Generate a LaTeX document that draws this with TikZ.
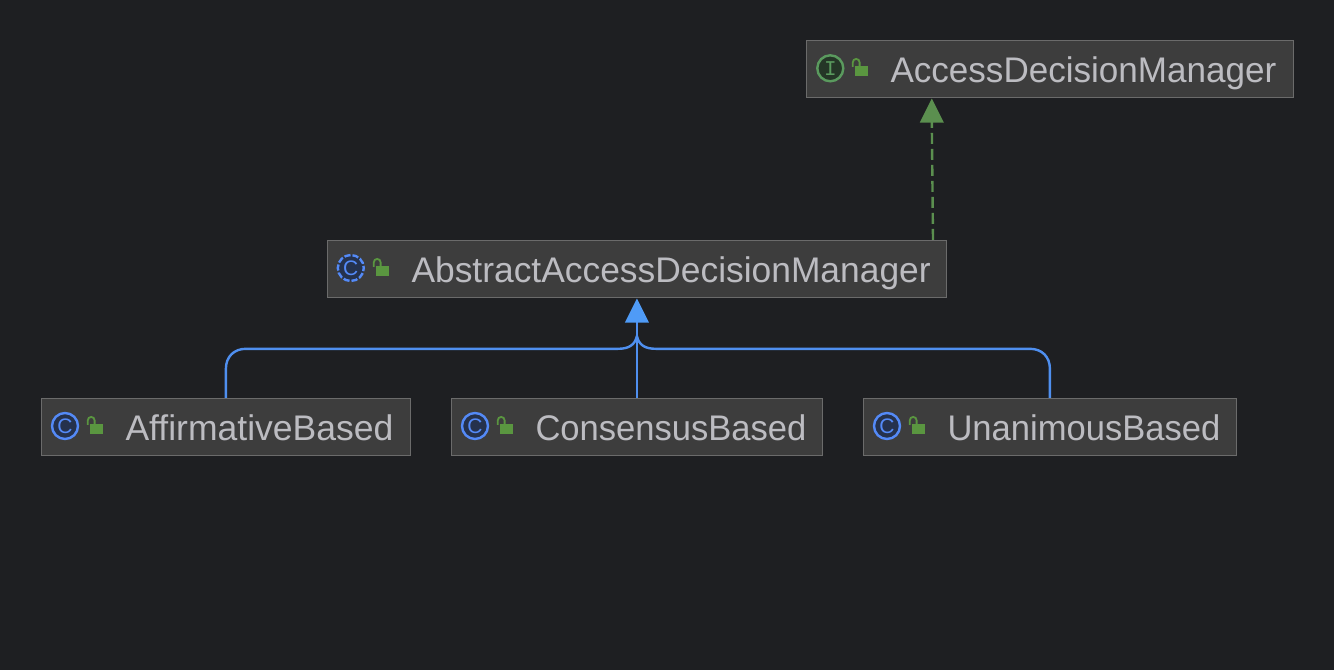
\documentclass[tikz,border=0pt]{standalone}
\usepackage{fontspec}
\setmainfont{Liberation Sans}
\newfontfamily\iconmono{Liberation Mono}
\usetikzlibrary{arrows.meta}
\definecolor{bgc}{HTML}{1E1F22}
\definecolor{boxfill}{HTML}{3D3D3D}
\definecolor{boxline}{HTML}{6B6B6B}
\definecolor{labelc}{HTML}{BCBCC1}
\definecolor{bluec}{HTML}{4F8FEF}
\definecolor{bluering}{HTML}{548AF7}
\definecolor{bluetip}{HTML}{4F9BF7}
\definecolor{bluefill}{HTML}{25324D}
\definecolor{greenc}{HTML}{5A9A5E}
\definecolor{greentip}{HTML}{5B8F4F}
\definecolor{greenfill}{HTML}{253627}
\definecolor{lockc}{HTML}{5A9640}
\tikzset{
  x=1pt,y=-1pt,
  umlbox/.style={draw=boxline,line width=1.2pt,fill=boxfill,rectangle,inner sep=0pt,minimum height=57pt},
  umllabel/.style={text=labelc,font=\fontsize{35.6}{40}\selectfont,anchor=base west,inner sep=0pt},
  inherit/.style={draw=bluec,line width=2.4pt},
  bluehead/.style={fill=bluetip,draw=none},
  greenhead/.style={fill=greentip,draw=none},
  realize/.style={draw=greentip,line width=2.4pt,dash pattern=on 11pt off 5pt},
}
% #1 name, #2 left x, #3 top y, #4 width, #5 label, #6 horizontal fit
\newcommand{\umlnode}[6]{%
  \node[umlbox,minimum width=#4pt,anchor=north west] (#1) at (#2,#3) {};
  \node[umllabel] (#1label) at (#2+84.5,#3+42.2) {\scalebox{#6}[1]{#5}};
  \begin{scope}[shift={(#2,#3)}]
    \fill[lockc] (49.6,26) rectangle (62,36.5);
    \draw[lockc,line width=1.8pt] (47,27) -- (47,22.5) arc[start angle=180,end angle=0,x radius=3.4,y radius=-3.4] -- (53.8,27);
  \end{scope}
}
\newcommand{\classicon}[3]{%
  \fill[bluefill] (#2,#3) circle[radius=13];
  \draw[bluering,line width=2.4pt] (#2,#3) circle[radius=13];
  \node[text=bluering,font=\fontsize{21}{22}\selectfont,inner sep=0pt] (#1) at (#2,#3) {C};
}
\begin{document}
\begin{tikzpicture}
\useasboundingbox (0,0) rectangle (1334,670);
\fill[bgc] (0,0) rectangle (1334,670);
\umlnode{access}{805.8}{39.8}{487}{AccessDecisionManager}{.985}
\umlnode{abstract}{326.8}{239.8}{619}{AbstractAccessDecisionManager}{.994}
\umlnode{affirm}{40.8}{397.8}{369}{AffirmativeBased}{.998}
\umlnode{consensus}{450.8}{397.8}{371}{ConsensusBased}{.971}
\umlnode{unanimous}{862.8}{397.8}{373}{UnanimousBased}{.971}
% icons
\fill[greenfill] (830.3,68.3) circle[radius=13];
\draw[greenc,line width=2.4pt] (830.3,68.3) circle[radius=13];
\node[text=greenc,font=\iconmono\fontsize{21}{22}\selectfont,inner sep=0pt] (ifaceicon) at (830.3,68.3) {I};
\fill[bluefill] (350.8,268) circle[radius=13];
\draw[bluering,line width=2.4pt,dash pattern=on 6.2pt off 2pt,dash phase=3pt] (350.8,268) circle[radius=13];
\node[text=bluering,font=\fontsize{21}{22}\selectfont,inner sep=0pt] (absicon) at (350.8,268) {C};
\classicon{afficon}{65}{426}
\classicon{conicon}{475}{426}
\classicon{unaicon}{887}{426}
% realization
\draw[realize] ([xshift=-14pt]abstract.north east) -- ([xshift=126pt,yshift=-22pt]access.south west);
\fill[greenhead] ([xshift=126pt,yshift=-0.5pt]access.south west) -- ++(12,24) -- ++(-24,0) -- cycle;
% inheritance
\coordinate (joint) at ([yshift=-38pt]abstract.south);
\coordinate (railL) at ([xshift=-19pt,yshift=-12.8pt]joint);
\coordinate (railR) at ([xshift=19pt,yshift=-12.8pt]joint);
\coordinate (cornerL) at (affirm.north |- railL);
\coordinate (cornerR) at (unanimous.north |- railR);
\draw[inherit] (affirm.north) -- ([yshift=-20pt]cornerL) .. controls +(0,-12) and +(-12,0) .. ([xshift=20pt]cornerL) -- (railL) .. controls +(11,0) and +(-2,9) .. (joint);
\draw[inherit] (unanimous.north) -- ([yshift=-20pt]cornerR) .. controls +(0,-12) and +(12,0) .. ([xshift=-20pt]cornerR) -- (railR) .. controls +(-11,0) and +(2,9) .. (joint);
\draw[inherit] (consensus.north -| abstract.south) -- ([yshift=-24pt]abstract.south);
\fill[bluehead] ([yshift=-0.5pt]abstract.south) -- ++(12,24) -- ++(-24,0) -- cycle;
\end{tikzpicture}
\end{document}
